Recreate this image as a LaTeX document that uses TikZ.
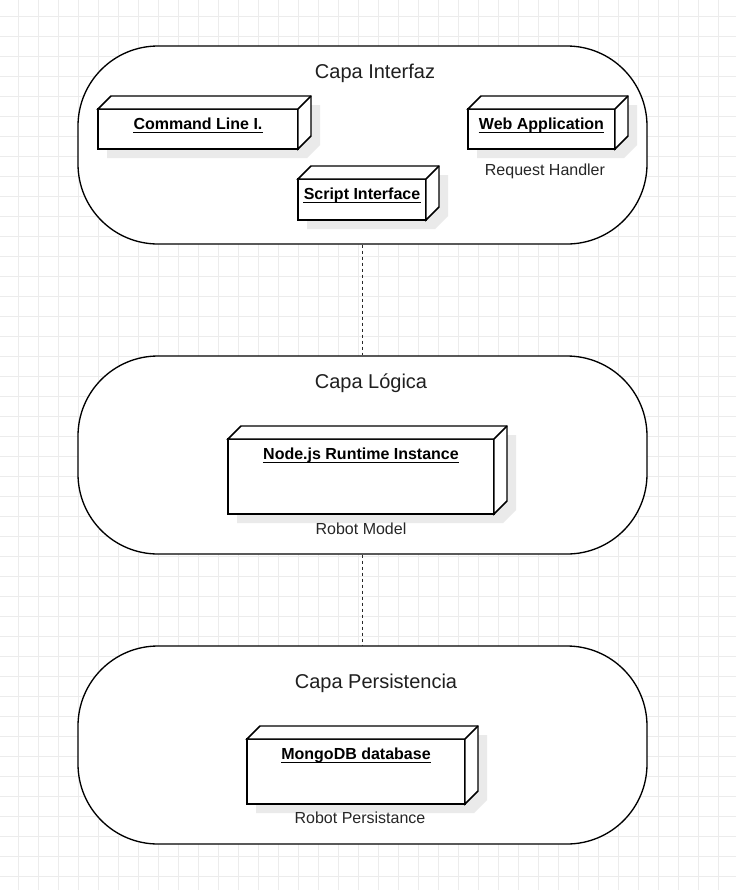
\documentclass[tikz,border=0pt]{standalone}
\usepackage{fontspec}
\setmainfont{Liberation Sans}
\usetikzlibrary{positioning}
\definecolor{gridgray}{RGB}{236,236,236}
\definecolor{shadowgray}{RGB}{234,234,234}
\definecolor{linkgray}{RGB}{40,40,40}
\pgfdeclarelayer{bg}
\pgfdeclarelayer{shade}
\pgfsetlayers{bg,shade,main}

\begin{document}
\begin{tikzpicture}[
x=0.75pt, y=-0.75pt,
font=\fontsize{12pt}{14pt}\selectfont,
gridline/.style={draw=gridgray, line width=0.75pt},
layer/.style={rectangle, draw, fill=white, line width=1pt, rounded corners=60pt, minimum width=426.75pt, minimum height=148.5pt},
layertitle/.style={anchor=base, inner sep=0pt, font=\fontsize{15pt}{18pt}\selectfont, text=black!88},
unode/.style={rectangle, draw, fill=white, line width=1.1pt, inner sep=0pt, outer sep=0pt},
face/.style={draw, fill=white, line width=1.1pt, line join=miter},
nodelabel/.style={anchor=base, inner sep=0pt, font=\fontsize{12pt}{14pt}\selectfont\bfseries},
uline/.style={draw, line width=0.75pt},
caption/.style={anchor=base, inner sep=0pt, text=black!85},
link/.style={draw=linkgray, line width=1.1pt, dash pattern=on 2.4pt off 2.1pt}
]

\useasboundingbox (0,0) rectangle (736,890);

\begin{pgfonlayer}{bg}
\fill[white] (0,0) rectangle (736,890);
\foreach \k in {0,...,35} \draw[gridline] (18.3+20*\k,0) -- (18.3+20*\k,890);
\foreach \k in {0,...,43} \draw[gridline] (0,16.7+20*\k) -- (736,16.7+20*\k);

\node[layer] (interfaz) at (362.5,145) {};
\node[layer] (logica) at (362.5,455) {};
\node[layer] (persist) at (362.5,745) {};
\end{pgfonlayer}

\draw[link] (interfaz) -- (logica);
\draw[link] (logica) -- (persist);

\node[layertitle] (titleI) at (375,78) {Capa Interfaz};
\node[layertitle] (titleL) at (371,388) {Capa Lógica};
\node[layertitle] (titleP) at (376,688) {Capa Persistencia};

\node[unode, minimum width=150pt, minimum height=30pt] (cli) at (198,129) {};
\node[unode, minimum width=96pt, minimum height=30.75pt] (script) at (362,199.5) {};
\node[unode, minimum width=110.25pt, minimum height=30pt] (web) at (541.5,129) {};
\node[unode, minimum width=199.5pt, minimum height=56.25pt] (nodejs) at (361,476.5) {};
\node[unode, minimum width=163.5pt, minimum height=48.75pt] (mongo) at (356,771.5) {};

\foreach \n in {cli,script,web,nodejs,mongo}{
  \draw[face] (\n.north west) -- ++(13,-13) -| ([shift={(13,-13)}]\n.south east) -- (\n.south east) -- (\n.north east) -- cycle;
  \draw[face] (\n.north east) -- ++(13,-13);
  \begin{pgfonlayer}{shade}
    \fill[shadowgray] ([shift={(9,9)}]\n.north west) -- ++(13,-13) -| ([shift={(22,-4)}]\n.south east)
      -- ([shift={(9,9)}]\n.south east) -- ([shift={(9,9)}]\n.south west) -- cycle;
  \end{pgfonlayer}
}

\node[nodelabel] (cliT) at ([yshift=-15pt]cli.north) {Command Line I.};
\node[nodelabel] (scriptT) at ([yshift=-15pt]script.north) {Script Interface};
\node[nodelabel] (webT) at ([yshift=-15pt]web.north) {Web Application};
\node[nodelabel] (nodejsT) at ([yshift=-15pt]nodejs.north) {Node.js Runtime Instance};
\node[nodelabel] (mongoT) at ([yshift=-15pt]mongo.north) {MongoDB database};

\foreach \t in {cliT,scriptT,webT,nodejsT,mongoT}
  \draw[uline] ([yshift=-2.25pt]\t.base west) -- ([yshift=-2.25pt]\t.base east);

\node[caption] (webC) at ([xshift=2.6pt, yshift=-19.5pt]web.south) {Request Handler};
\node[caption] (nodejsC) at ([yshift=-15pt]nodejs.south) {Robot Model};
\node[caption] (mongoC) at ([xshift=3pt, yshift=-14.25pt]mongo.south) {Robot Persistance};

\end{tikzpicture}
\end{document}
